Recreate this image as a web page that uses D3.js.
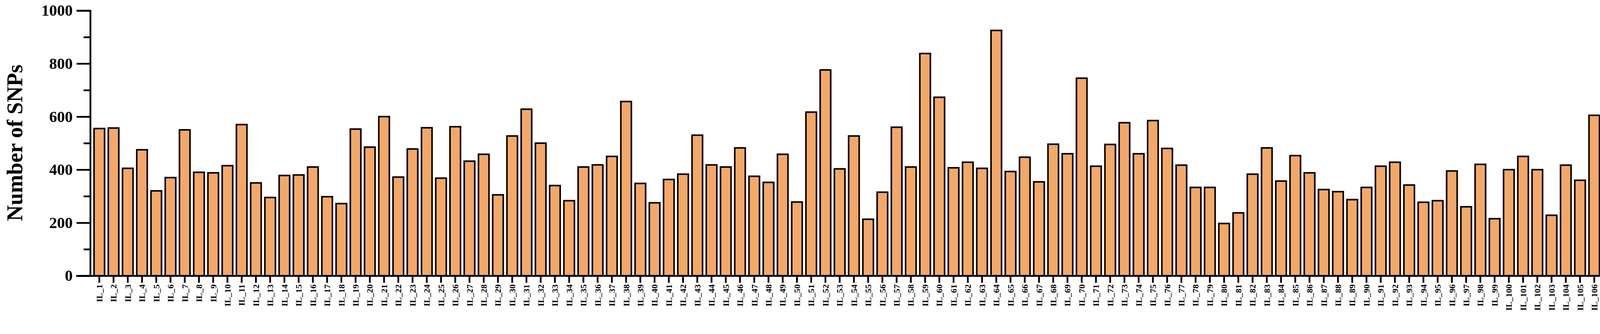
<!DOCTYPE html>
<html>
<head>
<meta charset="utf-8">
<script src="https://cdn.jsdelivr.net/npm/d3@7"></script>
<style>
  html, body { margin: 0; background: #fff; overflow: hidden; }
  svg { display: block; }
  text { font-family: "Liberation Serif", "Times New Roman", serif; font-weight: bold; }
</style>
</head>
<body>
<svg id="chart"></svg>
<script>
var values = [555, 557, 405, 475, 320, 370, 550, 390, 388, 415,
  570, 350, 295, 378, 380, 410, 298, 272, 553, 485,
  600, 372, 478, 558, 368, 562, 432, 458, 305, 527,
  628, 500, 340, 283, 410, 418, 450, 657, 348, 275,
  363, 383, 530, 418, 410, 482, 375, 352, 458, 278,
  617, 776, 403, 527, 213, 315, 560, 410, 838, 673,
  407, 428, 405, 925, 393, 447, 354, 496, 460, 745,
  413, 495, 577, 460, 585, 480, 417, 333, 333, 197,
  237, 383, 482, 357, 453, 388, 325, 317, 287, 333,
  413, 428, 342, 277, 283, 395, 260, 420, 215, 400,
  450, 400, 228, 417, 360, 605, 237];
var categories = values.map((v, i) => "IL_" + (i + 1));
var yTicks = [0, 200, 400, 600, 800, 1000];

var W = 4156, H = 854;
var svg = d3.select("#chart").attr("width", W).attr("height", H);

var x = d3.scaleBand().domain(categories).range([236, 4136]).paddingInner(0.26).paddingOuter(0.13);
var y = d3.scaleLinear().domain([0, 1000]).range([705, 27]);

svg.selectAll("rect.bar").data(values).join("rect")
  .attr("class", "bar")
  .attr("x", (d, i) => x(categories[i]))
  .attr("y", d => y(d))
  .attr("width", x.bandwidth())
  .attr("height", d => y(0) - y(d))
  .attr("fill", "#F4A868")
  .attr("stroke", "#000")
  .attr("stroke-width", 4);

// y axis
var yAxis = svg.append("g").attr("transform", "translate(231,0)")
  .call(d3.axisLeft(y).tickValues(yTicks).tickSize(35).tickPadding(10).tickFormat(d3.format("d")));
yAxis.selectAll("text").attr("font-size", 40).attr("fill", "#000");
svg.append("g").attr("transform", "translate(231,0)")
  .call(d3.axisLeft(y).tickValues([100, 300, 500, 700, 900]).tickSize(17).tickFormat(""))
  .select(".domain").remove();

// x axis
var xAxis = svg.append("g").attr("transform", "translate(0,705)")
  .call(d3.axisBottom(x).tickSize(18).tickSizeOuter(0).tickPadding(6));
xAxis.select(".domain").attr("d", "M195,0.5H" + 4136);
xAxis.selectAll("text")
  .attr("font-size", 22).attr("fill", "#000")
  .attr("text-anchor", "end").attr("dy", "0.35em")
  .attr("transform", "rotate(-90)")
  .attr("x", -22).attr("y", 0);

svg.selectAll(".domain, .tick line").attr("stroke", "#000").attr("stroke-width", 4.5);

svg.append("text")
  .attr("transform", "translate(57,365) rotate(-90)")
  .attr("text-anchor", "middle")
  .attr("font-size", 56)
  .text("Number of SNPs");
</script>
</body>
</html>
